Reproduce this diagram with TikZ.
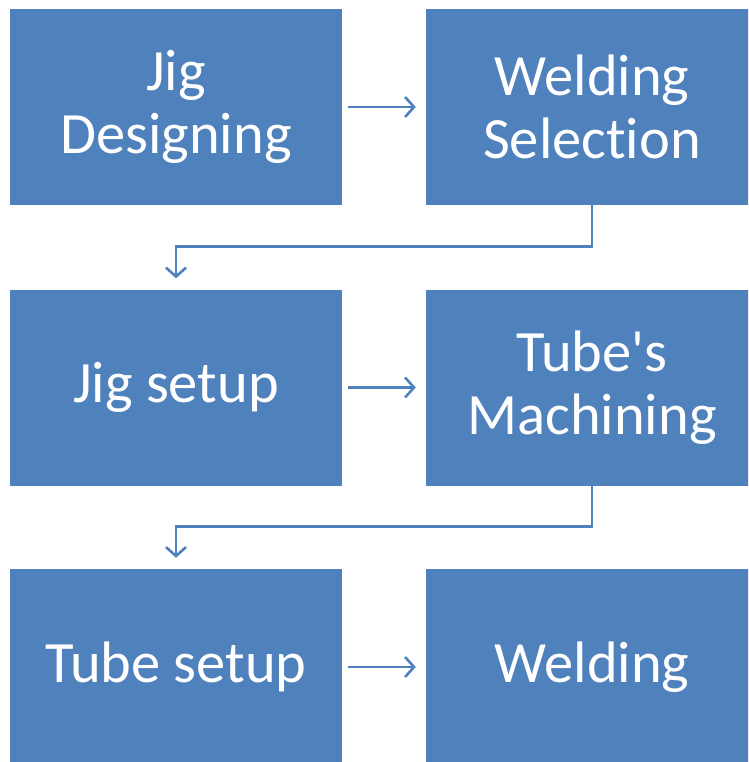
\documentclass[tikz,border=0pt]{standalone}
\usepackage{fontspec}
\setmainfont{Carlito}[Ligatures={NoCommon}]
\usetikzlibrary{arrows.meta}
\definecolor{boxblue}{HTML}{4F81BD}
\tikzset{
  box/.style={fill=boxblue, draw=none, minimum width=332pt, minimum height=196pt, inner sep=0pt,
    text=white, align=center, font=\fontsize{58.5}{63}\selectfont},
  arr/.style={draw=boxblue, line width=2.6pt, -{Straight Barb[length=9pt,width=20pt,line width=2.6pt]}}
}
\begin{document}
\begin{tikzpicture}
\useasboundingbox (0,0) rectangle (748pt,-762pt);
\clip (0,0) rectangle (748pt,-762pt);
\node[box] (jd) at (176pt,-107pt) {Jig\\Designing};
\node[box] (ws) at (592pt,-107pt) {Welding\\Selection};
\node[box] (js) at (176pt,-387.5pt) {Jig setup};
\node[box] (tm) at (592pt,-387.5pt) {Tube\textquotesingle s\\Machining};
\node[box] (ts) at (176pt,-667pt) {Tube setup};
\node[box] (w) at (592pt,-667pt) {Welding};
\draw[arr] ([xshift=6pt]jd.east) -- ([xshift=-10pt]ws.west);
\draw[arr] ([xshift=6pt]js.east) -- ([xshift=-10pt]tm.west);
\draw[arr] ([xshift=6pt]ts.east) -- ([xshift=-10pt]w.west);
\draw[arr] (ws.south) -- ++(0,-41pt) -| ([yshift=11pt]js.north);
\draw[arr] (tm.south) -- ++(0,-41pt) -| ([yshift=11pt]ts.north);
\end{tikzpicture}
\end{document}
